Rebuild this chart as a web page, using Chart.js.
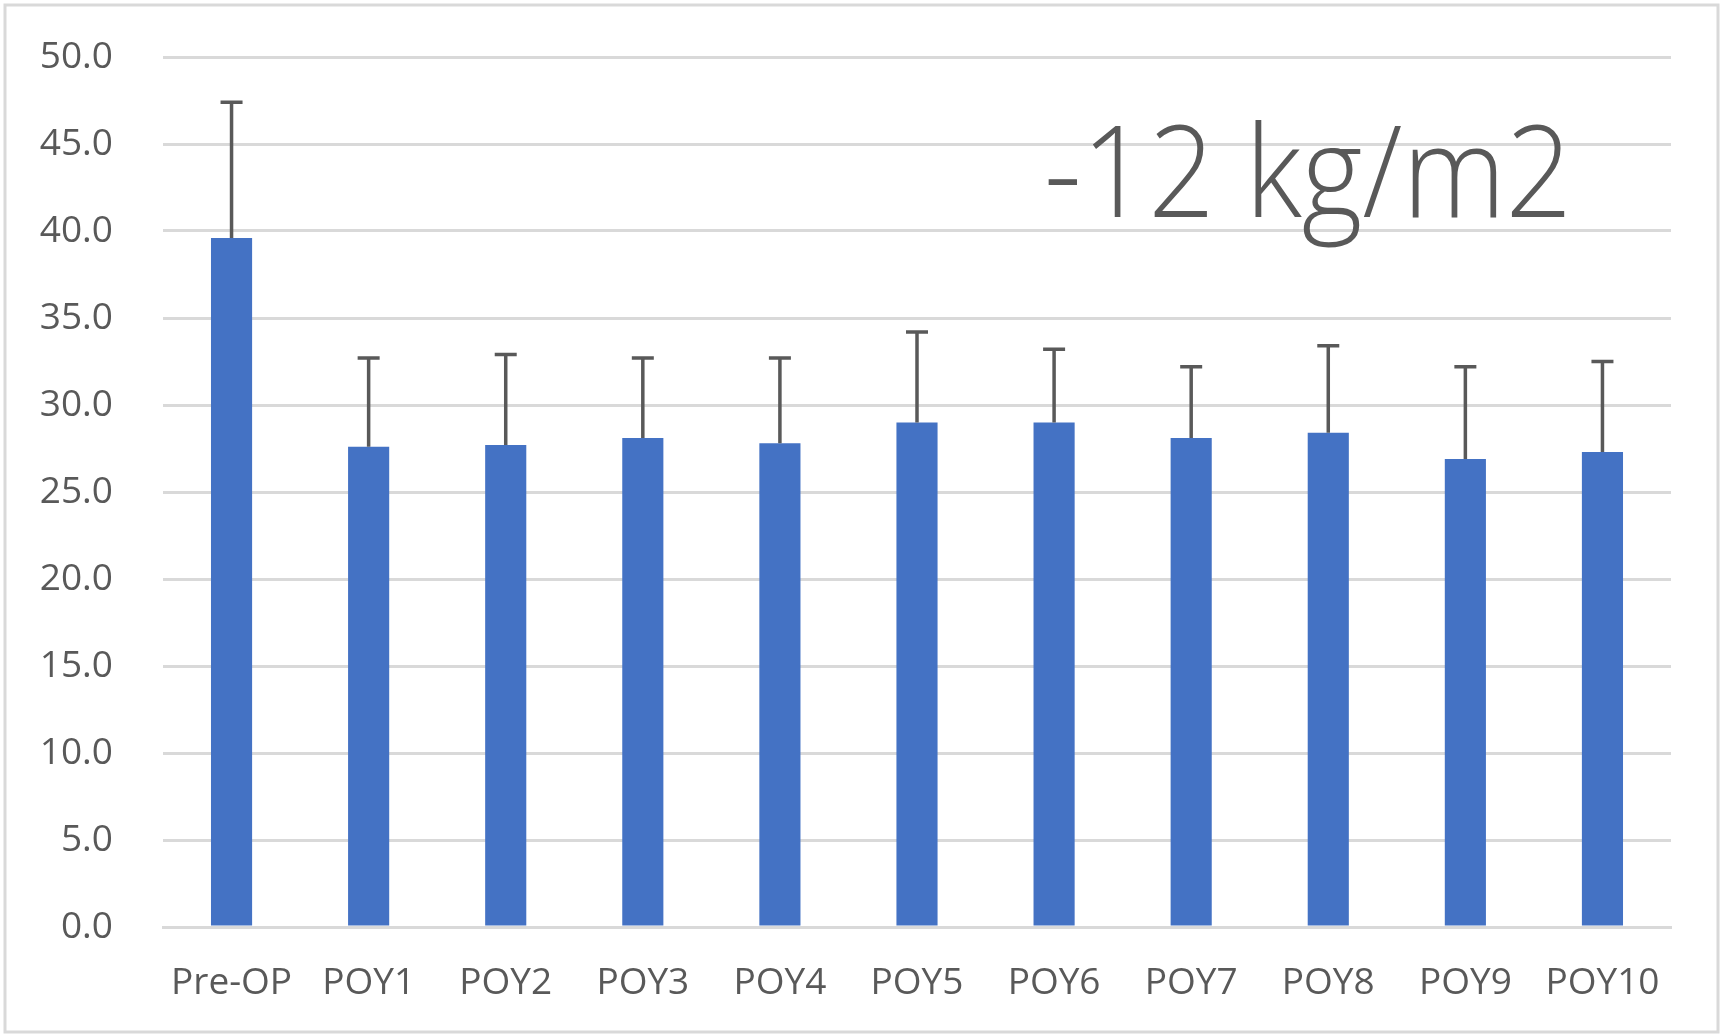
<!DOCTYPE html>
<html lang="en">
<head>
    <meta charset="UTF-8">
    <title>BMI over time</title>
    <script src="https://cdn.jsdelivr.net/npm/chart.js"></script>
    <style>
        html, body { margin: 0; padding: 0; background: #ffffff; }
        #wrap { width: 1727px; height: 1035px; position: relative; }
    </style>
</head>
<body>
<div id="wrap"><canvas id="grafico"></canvas></div>
<script>
    // data
    const categorias = ["Pre-OP", "POY1", "POY2", "POY3", "POY4", "POY5", "POY6", "POY7", "POY8", "POY9", "POY10"];
    const medias = [39.6, 27.6, 27.7, 28.1, 27.8, 29.0, 29.0, 28.1, 28.4, 26.9, 27.3];
    const desvios = [7.8, 5.1, 5.2, 4.6, 4.9, 5.2, 4.2, 4.1, 5.0, 5.3, 5.2];
    const yTicks = { min: 0, max: 50, step: 5 };
    const anotacao = "-12 kg/m2";

    const cinzaTexto = "#595959";

    // error bars (upper only) + frame + big annotation
    const extras = {
        id: "extras",
        afterDatasetsDraw(chart) {
            const ctx = chart.ctx;
            const y = chart.scales.y;
            const meta = chart.getDatasetMeta(0);
            ctx.save();
            ctx.strokeStyle = cinzaTexto;
            ctx.lineWidth = 3.5;
            meta.data.forEach((bar, i) => {
                const yTop = y.getPixelForValue(medias[i] + desvios[i]);
                ctx.beginPath();
                ctx.moveTo(bar.x, bar.y);
                ctx.lineTo(bar.x, yTop);
                ctx.moveTo(bar.x - 11, yTop);
                ctx.lineTo(bar.x + 11, yTop);
                ctx.stroke();
            });
            ctx.restore();
        },
        afterDraw(chart) {
            const ctx = chart.ctx;
            ctx.save();
            ctx.strokeStyle = "#d9d9d9";
            ctx.lineWidth = 3;
            ctx.strokeRect(5, 5, 1713, 1027);
            ctx.fillStyle = cinzaTexto;
            ctx.font = "300 127px 'Open Sans'";
            ctx.textBaseline = "alphabetic";
            ctx.textAlign = "left";
            ctx.translate(1044, 217);
            ctx.scale(0.92, 1);
            ctx.fillText(anotacao, 0, 0);
            ctx.restore();
        }
    };

    new Chart(document.getElementById("grafico"), {
        type: "bar",
        data: {
            labels: categorias,
            datasets: [{
                data: medias,
                backgroundColor: "#4472C4",
                borderWidth: 0,
                barPercentage: 0.3,
                categoryPercentage: 1.0
            }]
        },
        options: {
            responsive: true,
            maintainAspectRatio: false,
            animation: false,
            layout: { padding: { left: 30, right: 56, top: 57, bottom: 0 } },
            plugins: {
                legend: { display: false },
                tooltip: { enabled: false }
            },
            scales: {
                x: {
                    grid: { display: false, drawTicks: false },
                    border: { display: true, color: "#d9d9d9", width: 3 },
                    ticks: {
                        color: cinzaTexto,
                        padding: 34,
                        maxRotation: 0,
                        font: { family: "'Open Sans'", size: 37 }
                    },
                    afterFit(s) { s.height = 108; }
                },
                y: {
                    min: yTicks.min,
                    max: yTicks.max,
                    grid: { color: "#d9d9d9", lineWidth: 3, drawTicks: false },
                    border: { display: false },
                    ticks: {
                        stepSize: yTicks.step,
                        color: cinzaTexto,
                        padding: 50,
                        font: { family: "'Open Sans'", size: 37 },
                        callback: (v) => Number(v).toFixed(1)
                    },
                    afterFit(s) {
                        s.width = 133;
                        s.paddingTop = 0;
                        s.paddingBottom = 0;
                    }
                }
            }
        },
        plugins: [extras]
    });
</script>
</body>
</html>
